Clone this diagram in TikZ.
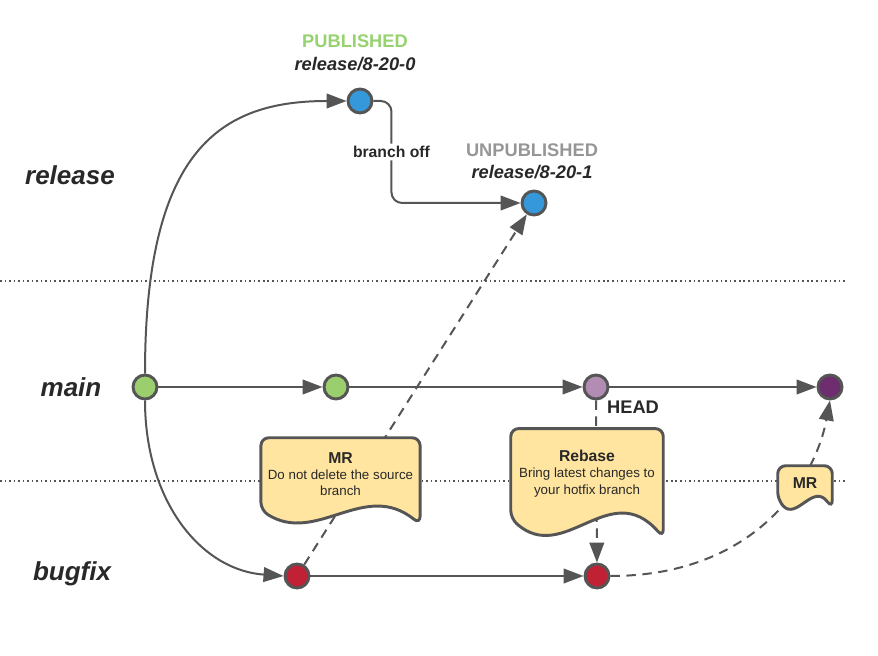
\documentclass[tikz,border=0pt]{standalone}
\usepackage{fontspec}
\setmainfont{Liberation Sans}
\usepackage{tikz}
\usetikzlibrary{positioning,
calc,
arrows.meta,
backgrounds}
\definecolor{linegray}{RGB}{85,85,85}
\definecolor{textdark}{RGB}{40,40,40}
\definecolor{greenc}{RGB}{155,207,110}
\definecolor{pubgreen}{RGB}{150,210,110}
\definecolor{unpubgray}{RGB}{150,150,150}
\definecolor{bluec}{RGB}{52,152,219}
\definecolor{redc}{RGB}{193,33,52}
\definecolor{lilac}{RGB}{178,140,178}
\definecolor{plum}{RGB}{110,45,110}
\definecolor{notefill}{RGB}{255,229,160}
\tikzstyle{commit} = [
circle,
draw=linegray,
line width=2.2pt,
minimum size=18pt,
inner sep=0pt
]
\tikzstyle{Arrow} = [
line width=1.5pt,
draw=linegray,
-{Triangle[length=15pt,width=11pt]}
]
\tikzstyle{Dashed} = [Arrow, dash pattern=on 7pt off 5pt]
\tikzstyle{sep} = [draw=linegray, line width=1.2pt, dash pattern=on 1.2pt off 2.2pt]
\tikzstyle{lane} = [font=\fontsize{19.5}{23}\selectfont\bfseries\itshape, text=textdark]
\tikzstyle{tag} = [font=\fontsize{13.7}{16}\selectfont\bfseries, text=textdark, inner sep=1pt]
\tikzstyle{note} = [align=center, inner sep=0pt, text=textdark, font=\fontsize{10}{12.2}\selectfont]
\tikzstyle{noteshape} = [fill=notefill, draw=linegray, line width=2.2pt, rounded corners=6pt]
\newcommand{\docnote}[2]{%
\filldraw[noteshape] (#1.west) -- (#1.north west) -- (#1.north east) -- ($(#1.south east)+(0,#2)$)
    .. controls ($(#1.south west)!0.65!(#1.south east)+(0,-2.2*#2)$)
    and ($(#1.south west)!0.35!(#1.south east)+(0,2.5*#2)$) .. (#1.south west) -- cycle;
}
\newcommand{\notehead}[1]{{\fontsize{11.8}{13}\selectfont\bfseries #1}}

\begin{document}
\begin{tikzpicture}[x=0.75pt, y=-0.75pt]
            \useasboundingbox (0,0) rectangle (878,656);
            \node[lane] (lr) at (70,175) {release};
            \node[lane] (lm) at (71,387) {main};
            \node[lane] (lb) at (72,574) {bugfix};

            \node[commit, fill=greenc] (m0) at (145,387) {};
            \node[commit, fill=greenc] (m1) at (336,387) {};
            \node[commit, fill=lilac] (m2) at (596,387) {};
            \node[commit, fill=plum] (m3) at (830,387) {};
            \node[commit, fill=bluec] (r0) at (360,101) {};
            \node[commit, fill=bluec] (r1) at (534,203) {};
            \node[commit, fill=redc] (b0) at (297,576) {};
            \node[commit, fill=redc] (b1) at (597,576) {};

            \node[tag, text=pubgreen] (p0) at (355,41) {PUBLISHED};
            \node[tag, font=\fontsize{13.7}{16}\selectfont\bfseries\itshape, below=5pt of p0] (v0) {release/8-20-0};
            \node[tag, text=unpubgray] (p1) at (532,150) {UNPUBLISHED};
            \node[tag, font=\fontsize{13.7}{16}\selectfont\bfseries\itshape, below=4pt of p1] (v1) {release/8-20-1};
            \node[tag] (head) at (633,407) {HEAD};

            \node[note, minimum width=119pt, minimum height=54pt] (n1) at (340.5,474) {\notehead{MR}\\Do not delete the source\\branch};
            \node[note, minimum width=114pt, minimum height=67pt] (n2) at (587,473.5) {\notehead{Rebase}\\Bring latest changes to\\your hotfix branch};
            \node[note, minimum width=40.5pt, minimum height=25.5pt] (n3) at (805,483) {\notehead{MR}};

            \begin{scope}[on background layer]
            \draw[sep] (0,281) -- (845,281);
            \draw[sep] (0,481) -- (845,481);
            \draw[Arrow] (m0) -- (m1);
            \draw[Arrow] (m1) -- (m2);
            \draw[Arrow] (m2) -- (m3);
            \draw[Arrow] (b0) -- (b1);
            \draw[Arrow] (m0.north) .. controls (145,150) and (220,101) .. (r0.west);
            \draw[Arrow] (m0.south) .. controls (145,500) and (200,570) .. (b0.west);
            \draw[Arrow, rounded corners=8pt] (r0.east) -- ++(18,0) |- (r1.west)
                node[pos=0.25, fill=white, inner sep=2pt, font=\fontsize{11.8}{14}\selectfont\bfseries, text=textdark] (bo) {branch off};
            \draw[Dashed] (b0) -- (r1);
            \draw[Dashed] (m2) -- (b1);
            \draw[Dashed] (b1.east) .. controls (755,576) and (815,480) .. (m3.south);
            \docnote{n1}{14}
            \docnote{n2}{19}
            \docnote{n3}{8}
            \end{scope}
        \end{tikzpicture}
\end{document}
